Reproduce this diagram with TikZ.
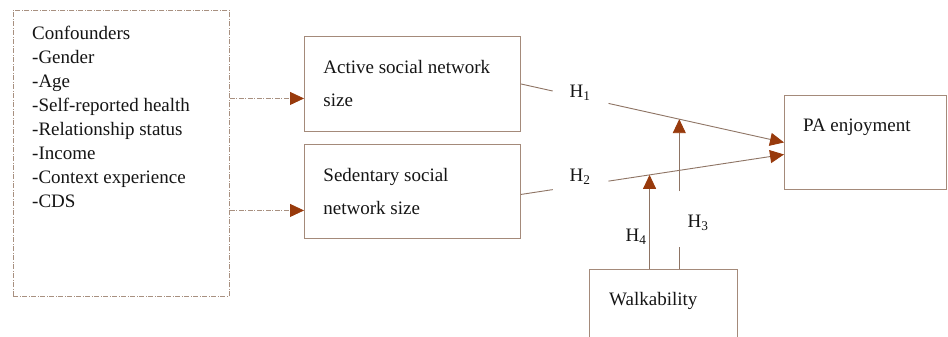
\documentclass[tikz,border=0pt]{standalone}
\usepackage{fontspec}
\setmainfont{Liberation Serif}
\usetikzlibrary{arrows.meta,calc}
\definecolor{boxc}{HTML}{A48A7A}
\definecolor{linec}{HTML}{8E7464}
\definecolor{tipc}{HTML}{983A0C}
\definecolor{dashc}{HTML}{A89080}
\definecolor{txtc}{HTML}{151515}
\begin{document}
\begin{tikzpicture}[x=1pt,y=-1pt,
  every node/.style={font=\fontsize{19}{24}\selectfont, text=txtc},
  bx/.style={draw=boxc, line width=0.9pt, rectangle, inner sep=0pt},
  dbox/.style={draw=dashc, line width=0.8pt, dash pattern=on 5pt off 1.5pt on 1pt off 1.5pt},
  arr/.style={draw=linec, line width=0.9pt, -{Triangle[length=14pt,width=13pt,fill=tipc,color=tipc]}},
  plain/.style={draw=linec, line width=0.9pt},
  darr/.style={draw=dashc, line width=0.8pt, dash pattern=on 5pt off 1.5pt on 1pt off 1.5pt, -{Triangle[length=14pt,width=13pt,fill=tipc,color=tipc]}},
  lbl/.style={inner sep=0pt, anchor=center}
]
\useasboundingbox[fill=white] (0,0) rectangle (948,337);
% boxes
\node[dbox, minimum width=216pt, minimum height=286pt, anchor=north west, inner sep=0pt] (conf) at (13,10) {};
\node[anchor=north west, align=left, inner sep=0pt] (conftext) at (32,26)
  {Confounders\\-Gender\\-Age\\-Self-reported health\\-Relationship status\\-Income\\-Context experience\\-CDS};
\node[bx, minimum width=216pt, minimum height=95pt, anchor=north west, align=flush left,
      text width=178pt, inner xsep=19pt, font=\fontsize{19}{33}\selectfont] (act) at (304,36)
  {Active social network\\size};
\node[bx, minimum width=216pt, minimum height=94pt, anchor=north west, align=flush left,
      text width=178pt, inner xsep=19pt, font=\fontsize{19}{33}\selectfont] (sed) at (304,144)
  {Sedentary social\\network size};
\node[bx, minimum width=162pt, minimum height=94pt, anchor=north west] (pa) at (784,95) {};
\node[anchor=west, inner sep=0pt] (patext) at (803,127) {PA enjoyment};
\node[bx, minimum width=148pt, minimum height=80pt, anchor=north west] (walk) at (589,269) {};
\node[anchor=west, inner sep=0pt] (walktext) at (609,301) {Walkability};
% dashed arrows from confounders
\coordinate (d1) at ([yshift=-14.5pt]act.west);
\coordinate (d2) at ([yshift=-19pt]sed.west);
\draw[darr] (conf.east |- d1) -- (d1);
\draw[darr] (conf.east |- d2) -- (d2);
% H1 path
\coordinate (s1) at (act.east);
\coordinate (e1) at (pa.west);
\coordinate (h1a) at ($(s1)!0.121!(e1)$);
\coordinate (h1b) at ($(s1)!0.333!(e1)$);
\draw[plain] (s1) -- (h1a);
\draw[arr] (h1b) -- (e1);
\node[lbl] (h1) at (580,93) {H\textsubscript{1}};
% H2 path
\coordinate (s2) at ([yshift=-3pt]sed.east);
\coordinate (e2) at ([yshift=-12pt]pa.west);
\coordinate (h2a) at ($(s2)!0.121!(e2)$);
\coordinate (h2b) at ($(s2)!0.333!(e2)$);
\draw[plain] (s2) -- (h2a);
\draw[arr] (h2b) -- (e2);
\node[lbl] (h2) at (580,177) {H\textsubscript{2}};
% H4 moderation
\coordinate (h4t) at ($(s2)!0.489!(e2)$);
\draw[arr] (h4t |- walk.north) -- (h4t);
\node[lbl] (h4) at (636,237) {H\textsubscript{4}};
% H3 moderation
\coordinate (h3t) at ($(s1)!0.602!(e1)$);
\coordinate (h3lo) at ($(h3t |- walk.north)+(0,-22)$);
\coordinate (h3hi) at ($(h3t)+(0,72)$);
\draw[plain] (h3t |- walk.north) -- (h3lo);
\draw[arr] (h3hi) -- (h3t);
\node[lbl] (h3) at (698,223) {H\textsubscript{3}};
\end{tikzpicture}
\end{document}
